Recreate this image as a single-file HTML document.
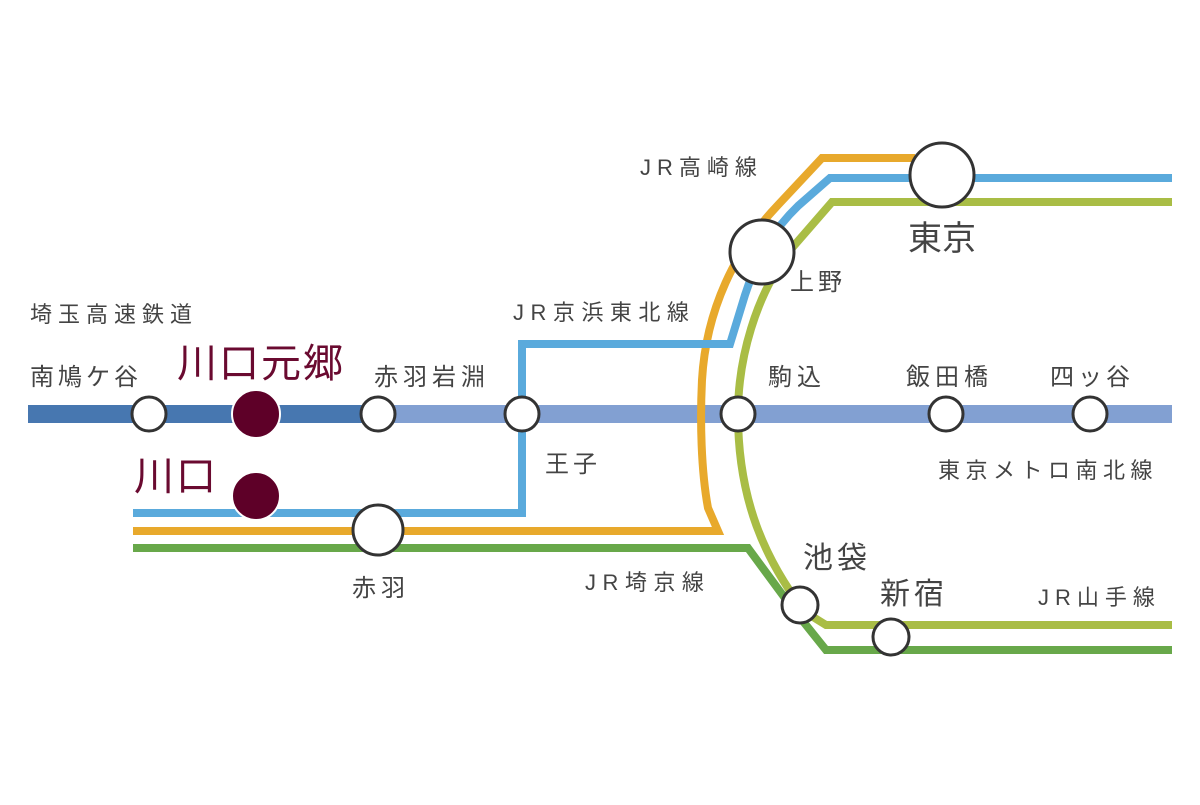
<!DOCTYPE html>
<html><head><meta charset="utf-8"><style>
html,body{margin:0;padding:0;background:#fff;}
svg text{font-family:"Liberation Sans","Noto Sans CJK JP",sans-serif;fill:#444;}
</style></head><body>
<svg width="1200" height="800" viewBox="0 0 1200 800" xmlns="http://www.w3.org/2000/svg">
<g fill="none" stroke-linejoin="miter">
<path d="M28,414 L378,414" stroke="#4777b0" stroke-width="18"/>
<path d="M378,414 L1172,414" stroke="#82a0d2" stroke-width="18"/>
<path d="M1172,202 L832,202 L792,248 C755,295 738,360 738,414 C738,500 765,560 805,612 L826,625 L1172,625" stroke="#a9bd45" stroke-width="8"/>
<path d="M133,548 L748,548 L790,605 L826,650 L1172,650" stroke="#68a84a" stroke-width="8"/>
<path d="M133,531 L718,531 L708,508 C701,470 700,420 702,380 C706,310 735,250 778,205 L822,158 L915,158" stroke="#e8a92c" stroke-width="8"/>
<path d="M133,513 L522,513 L522,344 L730,344 L745,295 C758,255 775,228 798,206 L830,178 L1172,178" stroke="#5aaadc" stroke-width="8"/>
</g>
<g fill="#fff" stroke="#333" stroke-width="3">
<circle cx="149" cy="414" r="17"/>
<circle cx="378" cy="414" r="17"/>
<circle cx="522" cy="414" r="17"/>
<circle cx="738" cy="414" r="17"/>
<circle cx="946" cy="414" r="17"/>
<circle cx="1090" cy="414" r="17"/>
<circle cx="378" cy="530" r="25"/>
<circle cx="942" cy="175" r="32"/>
<circle cx="762" cy="252" r="32"/>
<circle cx="800" cy="605" r="18"/>
<circle cx="891" cy="637" r="18"/>
</g>
<g fill="#5e0028" stroke="#fff" stroke-width="2">
<circle cx="256" cy="414" r="24"/>
<circle cx="256" cy="496" r="24"/>
</g>
<g font-size="22">
<text x="30" y="322" letter-spacing="6">埼玉高速鉄道</text>
<text x="30" y="385" font-size="24" letter-spacing="4">南鳩ケ谷</text>
<text x="374" y="385" font-size="24" letter-spacing="5">赤羽岩淵</text>
<text x="513" y="320" letter-spacing="6.5">JR京浜東北線</text>
<text x="545" y="472" font-size="24" letter-spacing="4">王子</text>
<text x="640" y="175" letter-spacing="6">JR高崎線</text>
<text x="790" y="290" font-size="24" letter-spacing="4">上野</text>
<text x="908" y="250" font-size="34">東京</text>
<text x="768" y="385" font-size="24" letter-spacing="5">駒込</text>
<text x="906" y="385" font-size="24" letter-spacing="5">飯田橋</text>
<text x="1050" y="385" font-size="24" letter-spacing="4">四ッ谷</text>
<text x="938" y="478" letter-spacing="5.5">東京メトロ南北線</text>
<text x="803" y="568" font-size="30" letter-spacing="4">池袋</text>
<text x="880" y="604" font-size="30" letter-spacing="4">新宿</text>
<text x="1038" y="605" letter-spacing="6">JR山手線</text>
<text x="352" y="596" font-size="24" letter-spacing="5">赤羽</text>
<text x="585" y="590" letter-spacing="6.5">JR埼京線</text>
</g>
<text x="177" y="377" font-size="40" letter-spacing="2" style="fill:#6a0a30">川口元郷</text>
<text x="134" y="490" font-size="40" letter-spacing="2" style="fill:#6a0a30">川口</text>
</svg>
</body></html>
